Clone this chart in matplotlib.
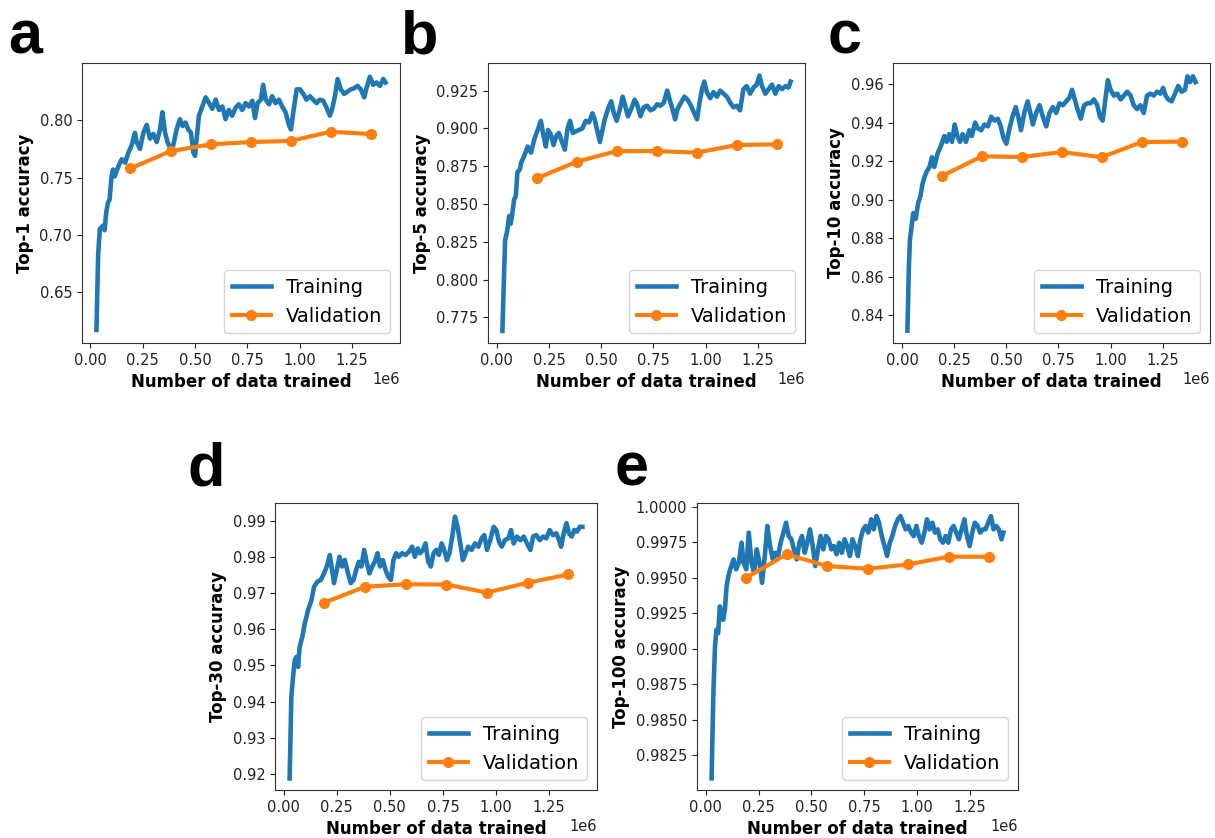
import numpy as np
import matplotlib
matplotlib.use('Agg')
import matplotlib.pyplot as plt

# ---------------- data (x in units of 1e6 samples) ----------------
val_x = [0.1915, 0.383, 0.5745, 0.766, 0.9575, 1.149, 1.3405]

a_train = [(0.029, 0.617), (0.037, 0.682), (0.045, 0.705), (0.060, 0.708), (0.068, 0.704),
           (0.076, 0.720), (0.084, 0.728), (0.092, 0.731), (0.100, 0.749), (0.108, 0.757),
           (0.116, 0.751), (0.134, 0.760), (0.150, 0.766), (0.166, 0.763), (0.182, 0.772),
           (0.197, 0.778), (0.213, 0.789), (0.221, 0.781), (0.237, 0.775), (0.253, 0.789),
           (0.269, 0.796), (0.285, 0.784), (0.301, 0.788), (0.317, 0.781), (0.333, 0.792),
           (0.344, 0.807), (0.357, 0.789), (0.369, 0.781), (0.381, 0.776), (0.396, 0.778),
           (0.412, 0.792), (0.428, 0.801), (0.441, 0.795), (0.455, 0.798), (0.468, 0.792),
           (0.481, 0.789), (0.492, 0.772), (0.500, 0.769), (0.508, 0.784), (0.519, 0.804),
           (0.535, 0.812), (0.551, 0.820), (0.567, 0.815), (0.583, 0.810), (0.599, 0.818),
           (0.615, 0.809), (0.631, 0.812), (0.646, 0.801), (0.662, 0.809), (0.678, 0.804),
           (0.694, 0.811), (0.710, 0.814), (0.726, 0.809), (0.742, 0.815), (0.758, 0.812),
           (0.774, 0.817), (0.787, 0.802), (0.799, 0.815), (0.815, 0.818), (0.826, 0.831),
           (0.838, 0.818), (0.854, 0.814), (0.869, 0.821), (0.885, 0.815), (0.901, 0.818),
           (0.917, 0.812), (0.933, 0.807), (0.949, 0.796), (0.959, 0.792), (0.970, 0.807),
           (0.986, 0.827), (1.002, 0.827), (1.018, 0.823), (1.033, 0.818), (1.049, 0.821),
           (1.065, 0.818), (1.081, 0.815), (1.097, 0.818), (1.113, 0.817), (1.129, 0.811),
           (1.145, 0.804), (1.156, 0.810), (1.169, 0.821), (1.182, 0.836), (1.197, 0.827),
           (1.213, 0.823), (1.229, 0.825), (1.245, 0.827), (1.261, 0.828), (1.277, 0.830),
           (1.293, 0.827), (1.309, 0.820), (1.320, 0.828), (1.336, 0.838), (1.352, 0.831),
           (1.368, 0.833), (1.384, 0.830), (1.400, 0.836), (1.411, 0.833)]
a_val = [0.758, 0.773, 0.779, 0.781, 0.782, 0.790, 0.788]

b_train = [(0.027, 0.766), (0.035, 0.804), (0.040, 0.826), (0.051, 0.833), (0.059, 0.842),
           (0.067, 0.837), (0.075, 0.844), (0.083, 0.853), (0.091, 0.855), (0.099, 0.871),
           (0.111, 0.873), (0.116, 0.877), (0.132, 0.882), (0.148, 0.888), (0.164, 0.884),
           (0.180, 0.893), (0.196, 0.899), (0.211, 0.905), (0.224, 0.895), (0.235, 0.888),
           (0.246, 0.899), (0.259, 0.896), (0.272, 0.889), (0.285, 0.895), (0.297, 0.897),
           (0.310, 0.892), (0.326, 0.886), (0.339, 0.900), (0.351, 0.905), (0.364, 0.897),
           (0.378, 0.898), (0.394, 0.899), (0.410, 0.900), (0.426, 0.905), (0.442, 0.904),
           (0.458, 0.910), (0.469, 0.906), (0.482, 0.898), (0.494, 0.891), (0.506, 0.899),
           (0.517, 0.906), (0.533, 0.913), (0.548, 0.918), (0.561, 0.910), (0.574, 0.905),
           (0.590, 0.913), (0.603, 0.921), (0.615, 0.915), (0.628, 0.908), (0.644, 0.913),
           (0.660, 0.919), (0.672, 0.916), (0.688, 0.908), (0.704, 0.914), (0.720, 0.915),
           (0.736, 0.912), (0.752, 0.913), (0.768, 0.916), (0.784, 0.915), (0.800, 0.917),
           (0.816, 0.925), (0.828, 0.919), (0.841, 0.913), (0.854, 0.906), (0.866, 0.913),
           (0.882, 0.917), (0.898, 0.921), (0.914, 0.919), (0.930, 0.915), (0.946, 0.910),
           (0.959, 0.906), (0.971, 0.917), (0.983, 0.926), (0.994, 0.931), (1.006, 0.924),
           (1.022, 0.920), (1.038, 0.924), (1.054, 0.921), (1.070, 0.925), (1.086, 0.923),
           (1.102, 0.921), (1.118, 0.917), (1.134, 0.914), (1.149, 0.915), (1.165, 0.912),
           (1.181, 0.926), (1.197, 0.928), (1.213, 0.923), (1.229, 0.927), (1.245, 0.929),
           (1.258, 0.935), (1.270, 0.928), (1.286, 0.923), (1.302, 0.926), (1.318, 0.929),
           (1.334, 0.923), (1.350, 0.928), (1.366, 0.926), (1.382, 0.928), (1.397, 0.927),
           (1.407, 0.931)]
b_val = [0.867, 0.878, 0.885, 0.885, 0.884, 0.889, 0.8895]

c_train = [(0.025, 0.832), (0.032, 0.865), (0.037, 0.879), (0.045, 0.886), (0.053, 0.893),
           (0.065, 0.890), (0.076, 0.898), (0.088, 0.902), (0.097, 0.908), (0.108, 0.912),
           (0.115, 0.914), (0.131, 0.917), (0.143, 0.922), (0.154, 0.917), (0.170, 0.924),
           (0.186, 0.928), (0.202, 0.933), (0.213, 0.930), (0.226, 0.934), (0.239, 0.930),
           (0.252, 0.939), (0.264, 0.933), (0.277, 0.930), (0.290, 0.934), (0.306, 0.930),
           (0.322, 0.936), (0.334, 0.933), (0.350, 0.940), (0.363, 0.937), (0.379, 0.936),
           (0.395, 0.939), (0.411, 0.938), (0.427, 0.943), (0.443, 0.941), (0.459, 0.942),
           (0.473, 0.938), (0.486, 0.932), (0.500, 0.929), (0.513, 0.936), (0.529, 0.943),
           (0.545, 0.948), (0.557, 0.943), (0.570, 0.936), (0.586, 0.945), (0.602, 0.951),
           (0.615, 0.945), (0.627, 0.939), (0.643, 0.945), (0.659, 0.949), (0.675, 0.943),
           (0.691, 0.938), (0.707, 0.945), (0.723, 0.948), (0.739, 0.945), (0.755, 0.950),
           (0.771, 0.949), (0.787, 0.951), (0.803, 0.953), (0.815, 0.957), (0.828, 0.952),
           (0.841, 0.947), (0.857, 0.942), (0.873, 0.949), (0.889, 0.950), (0.904, 0.950),
           (0.920, 0.952), (0.936, 0.949), (0.949, 0.943), (0.962, 0.941), (0.975, 0.952),
           (0.987, 0.962), (1.000, 0.957), (1.016, 0.954), (1.032, 0.955), (1.048, 0.952),
           (1.064, 0.954), (1.080, 0.956), (1.096, 0.954), (1.111, 0.949), (1.127, 0.947),
           (1.143, 0.949), (1.159, 0.945), (1.175, 0.954), (1.191, 0.955), (1.207, 0.954),
           (1.223, 0.956), (1.239, 0.955), (1.252, 0.958), (1.264, 0.954), (1.277, 0.952),
           (1.293, 0.951), (1.309, 0.955), (1.325, 0.959), (1.341, 0.956), (1.357, 0.957),
           (1.369, 0.964), (1.382, 0.961), (1.395, 0.964), (1.408, 0.961)]
c_val = [0.9123, 0.9225, 0.9221, 0.9247, 0.9220, 0.9299, 0.9301]

d_train = [(0.028, 0.9187), (0.036, 0.9413), (0.044, 0.9468), (0.052, 0.9514), (0.060, 0.9524),
           (0.068, 0.9496), (0.075, 0.9551), (0.088, 0.9580), (0.099, 0.9616), (0.107, 0.9634),
           (0.115, 0.9654), (0.131, 0.9681), (0.143, 0.9718), (0.159, 0.9732), (0.175, 0.9737),
           (0.190, 0.9755), (0.203, 0.9774), (0.217, 0.9806), (0.228, 0.9764), (0.237, 0.9728),
           (0.250, 0.9764), (0.263, 0.9801), (0.275, 0.9774), (0.288, 0.9792), (0.303, 0.9755),
           (0.316, 0.9728), (0.329, 0.9737), (0.341, 0.9764), (0.354, 0.9787), (0.366, 0.9774),
           (0.379, 0.9820), (0.392, 0.9783), (0.404, 0.9755), (0.417, 0.9774), (0.429, 0.9787),
           (0.442, 0.9811), (0.454, 0.9774), (0.467, 0.9792), (0.480, 0.9764), (0.492, 0.9746),
           (0.505, 0.9737), (0.517, 0.9792), (0.530, 0.9811), (0.542, 0.9801), (0.558, 0.9811),
           (0.574, 0.9806), (0.590, 0.9815), (0.605, 0.9829), (0.618, 0.9801), (0.631, 0.9824),
           (0.643, 0.9811), (0.656, 0.9820), (0.668, 0.9838), (0.681, 0.9787), (0.693, 0.9774),
           (0.706, 0.9811), (0.719, 0.9820), (0.731, 0.9806), (0.744, 0.9838), (0.756, 0.9820),
           (0.769, 0.9792), (0.781, 0.9811), (0.794, 0.9857), (0.807, 0.9912), (0.819, 0.9884),
           (0.832, 0.9838), (0.844, 0.9792), (0.857, 0.9811), (0.869, 0.9829), (0.885, 0.9820),
           (0.901, 0.9838), (0.917, 0.9829), (0.932, 0.9852), (0.945, 0.9861), (0.958, 0.9820),
           (0.973, 0.9847), (0.989, 0.9884), (1.002, 0.9875), (1.014, 0.9843), (1.027, 0.9829),
           (1.042, 0.9847), (1.058, 0.9852), (1.071, 0.9875), (1.083, 0.9838), (1.099, 0.9857),
           (1.115, 0.9847), (1.131, 0.9857), (1.146, 0.9838), (1.162, 0.9820), (1.175, 0.9857),
           (1.190, 0.9861), (1.206, 0.9847), (1.222, 0.9857), (1.237, 0.9852), (1.253, 0.9875),
           (1.269, 0.9861), (1.285, 0.9866), (1.297, 0.9847), (1.307, 0.9829), (1.319, 0.9866),
           (1.332, 0.9894), (1.344, 0.9866), (1.357, 0.9857), (1.369, 0.9875), (1.382, 0.9871),
           (1.395, 0.9884), (1.407, 0.9884)]
d_val = [0.9674, 0.9718, 0.9725, 0.9724, 0.9702, 0.9729, 0.9752]

e_train = [(0.027, 0.98085), (0.035, 0.98662), (0.043, 0.99015), (0.050, 0.99133), (0.058, 0.99110),
           (0.066, 0.99298), (0.074, 0.99251), (0.082, 0.99204), (0.090, 0.99275), (0.098, 0.99440),
           (0.106, 0.99510), (0.115, 0.99560), (0.131, 0.99630), (0.143, 0.99560), (0.156, 0.99607),
           (0.169, 0.99748), (0.178, 0.99607), (0.191, 0.99560), (0.203, 0.99819), (0.216, 0.99607),
           (0.228, 0.99536), (0.241, 0.99701), (0.254, 0.99607), (0.266, 0.99465), (0.279, 0.99654),
           (0.291, 0.99866), (0.304, 0.99724), (0.317, 0.99630), (0.329, 0.99677), (0.342, 0.99654),
           (0.354, 0.99748), (0.367, 0.99819), (0.380, 0.99889), (0.392, 0.99795), (0.405, 0.99772),
           (0.417, 0.99701), (0.430, 0.99630), (0.443, 0.99748), (0.455, 0.99795), (0.468, 0.99677),
           (0.480, 0.99748), (0.493, 0.99842), (0.506, 0.99724), (0.518, 0.99583), (0.531, 0.99701),
           (0.543, 0.99795), (0.556, 0.99701), (0.569, 0.99795), (0.581, 0.99772), (0.594, 0.99701),
           (0.606, 0.99724), (0.619, 0.99666), (0.631, 0.99748), (0.644, 0.99677), (0.657, 0.99772),
           (0.669, 0.99724), (0.682, 0.99654), (0.694, 0.99772), (0.707, 0.99724), (0.720, 0.99654),
           (0.732, 0.99772), (0.745, 0.99842), (0.757, 0.99866), (0.769, 0.99819), (0.783, 0.99913),
           (0.795, 0.99842), (0.808, 0.99936), (0.820, 0.99889), (0.833, 0.99795), (0.846, 0.99724),
           (0.858, 0.99654), (0.871, 0.99748), (0.883, 0.99795), (0.896, 0.99866), (0.909, 0.99913),
           (0.921, 0.99936), (0.934, 0.99889), (0.946, 0.99842), (0.959, 0.99866), (0.972, 0.99819),
           (0.984, 0.99795), (0.997, 0.99866), (1.009, 0.99795), (1.022, 0.99748), (1.035, 0.99819),
           (1.047, 0.99913), (1.060, 0.99842), (1.072, 0.99889), (1.085, 0.99819), (1.098, 0.99842),
           (1.110, 0.99772), (1.123, 0.99748), (1.135, 0.99795), (1.148, 0.99748), (1.161, 0.99842),
           (1.173, 0.99866), (1.186, 0.99819), (1.198, 0.99772), (1.211, 0.99842), (1.224, 0.99913),
           (1.236, 0.99795), (1.249, 0.99724), (1.261, 0.99819), (1.274, 0.99889), (1.287, 0.99866),
           (1.299, 0.99819), (1.312, 0.99842), (1.324, 0.99842), (1.337, 0.99889), (1.350, 0.99936),
           (1.362, 0.99842), (1.375, 0.99866), (1.387, 0.99842), (1.400, 0.99772), (1.409, 0.99819)]
e_val = [0.99501, 0.99666, 0.99583, 0.99564, 0.99595, 0.99649, 0.99649]

letters = ['a', 'b', 'c', 'd', 'e']
ylabels = ['Top-1 accuracy', 'Top-5 accuracy', 'Top-10 accuracy', 'Top-30 accuracy', 'Top-100 accuracy']
x_ticks = [0.0, 0.25, 0.5, 0.75, 1.0, 1.25]
y_ticks = [
    [0.65, 0.70, 0.75, 0.80],
    [0.775, 0.800, 0.825, 0.850, 0.875, 0.900, 0.925],
    [0.84, 0.86, 0.88, 0.90, 0.92, 0.94, 0.96],
    [0.92, 0.93, 0.94, 0.95, 0.96, 0.97, 0.98, 0.99],
    [0.9825, 0.9850, 0.9875, 0.9900, 0.9925, 0.9950, 0.9975, 1.0000],
]
trains = [a_train, b_train, c_train, d_train, e_train]
vals = [a_val, b_val, c_val, d_val, e_val]

# ---------------- layout (pixels) ----------------
W, H = 1215, 838
fig = plt.figure(figsize=(W / 100, H / 100), dpi=100)

boxes = [(82, 63, 400, 343), (488, 63, 805, 343), (893, 63, 1210, 343),
         (275, 503, 597, 790), (697, 503, 1018, 790)]
ylims = [(0.6056, 0.850), (0.758, 0.9433), (0.8256, 0.9709), (0.9155, 0.995), (0.98003, 1.00028)]
letter_pos = [(8, 53), (401, 53), (828, 53), (188, 485), (615, 485)]

blue = '#1f77b4'
orange = '#ff7f0e'

for i in range(5):
    l, t, r, b = boxes[i]
    ax = fig.add_axes([l / W, 1 - b / H, (r - l) / W, (b - t) / H])
    tx, ty = zip(*trains[i])
    ax.plot(np.array(tx) * 1e6, ty, color=blue, lw=3.3, label='Training')
    ax.plot(np.array(val_x) * 1e6, vals[i], color=orange, lw=3, marker='o', ms=7,
            label='Validation')
    ax.set_xticks(np.array(x_ticks) * 1e6)
    ax.set_yticks(y_ticks[i])
    ax.set_ylim(*ylims[i])
    ax.tick_params(labelsize=10.5, colors='#222222', labelcolor='#222222')
    ax.set_xlabel('Number of data trained', fontsize=12, fontweight='bold')
    ax.set_ylabel(ylabels[i], fontsize=12, fontweight='bold')
    ax.legend(loc='lower right', fontsize=14)
    ax.xaxis.get_offset_text().set_fontsize(10.5)
    for s in ax.spines.values():
        s.set_color('#333333')
    lx, ly = letter_pos[i]
    fig.text(lx / W, 1 - ly / H, letters[i], fontsize=44, fontweight='bold',
             family=['Liberation Sans', 'DejaVu Sans'], va='baseline', ha='left')

fig.savefig('out.png', dpi=100)
